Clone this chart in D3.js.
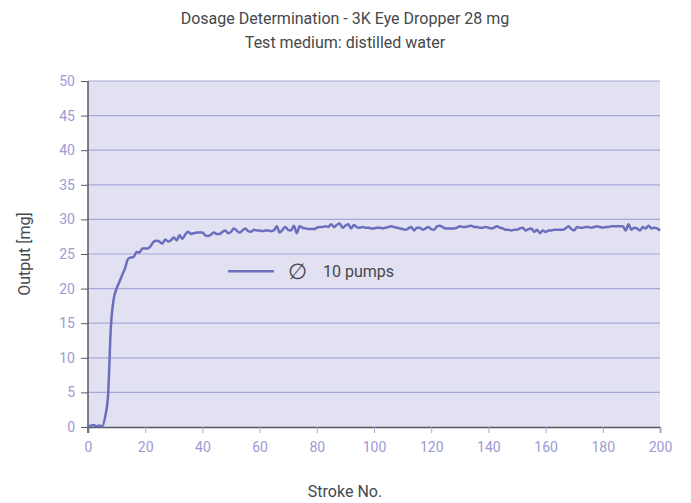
<!DOCTYPE html>
<html>
<head>
<meta charset="utf-8">
<script src="https://cdn.jsdelivr.net/npm/d3@7"></script>
<style>
  body { margin: 0; background: #fff; }
  text { font-family: "Roboto", "Noto Sans", sans-serif; }
</style>
</head>
<body>
<script>
// chart texts
var titleLines = ["Dosage Determination - 3K Eye Dropper 28 mg", "Test medium: distilled water"];
var seriesSymbol = "\u2205";
var seriesName = "10 pumps";
var xTicks = [0, 20, 40, 60, 80, 100, 120, 140, 160, 180, 200];
var yTicks = [0, 5, 10, 15, 20, 25, 30, 35, 40, 45, 50];

// output per stroke, strokes 0..200
var output = [
  0.1, 0.2, 0.3, 0.1, 0.2, 0.1, 1.5, 4.5, 14.5, 18.5, 20.0,
  21.0, 22.0, 23.0, 24.3, 24.5, 24.6, 25.3, 25.2, 25.8, 25.8,
  25.8, 26.2, 26.8, 26.9, 26.8, 26.5, 27.1, 26.8, 27.0, 27.4,
  27.0, 27.7, 27.2, 27.8, 28.2, 27.9, 28.0, 28.1, 28.1, 28.1,
  27.7, 27.6, 27.8, 28.1, 27.9, 27.9, 28.2, 28.4, 28.0, 28.2,
  28.7, 28.4, 28.1, 28.4, 28.7, 28.3, 28.2, 28.5, 28.4, 28.4,
  28.3, 28.4, 28.4, 28.3, 28.4, 29.0, 28.1, 28.5, 28.9, 28.5,
  28.4, 29.1, 28.0, 29.0, 28.8, 28.7, 28.6, 28.6, 28.6, 28.8,
  28.9, 28.9, 29.0, 28.9, 29.3, 28.9, 29.2, 29.4, 28.8, 29.1,
  29.3, 28.7, 29.2, 28.9, 28.8, 28.9, 28.8, 28.8, 28.7, 28.7,
  28.8, 28.8, 28.7, 28.8, 28.9, 29.0, 28.9, 28.8, 28.7, 28.6,
  28.5, 28.7, 28.9, 28.4, 28.8, 28.8, 28.5, 28.7, 28.9, 28.6,
  28.5, 29.0, 29.1, 28.9, 28.7, 28.7, 28.7, 28.7, 28.8, 29.0,
  28.9, 28.9, 29.0, 29.1, 28.9, 28.9, 28.8, 28.8, 28.9, 28.8,
  28.7, 28.8, 29.0, 28.8, 28.7, 28.5, 28.5, 28.4, 28.5, 28.5,
  28.7, 28.8, 28.4, 28.6, 28.7, 28.2, 28.5, 28.0, 28.4, 28.2,
  28.4, 28.4, 28.5, 28.5, 28.5, 28.5, 28.7, 29.0, 28.6, 28.4,
  28.9, 28.8, 28.8, 28.9, 28.9, 28.8, 28.9, 29.0, 28.9, 28.8,
  28.9, 28.9, 29.0, 29.0, 29.0, 29.0, 29.0, 28.4, 29.3, 28.5,
  28.8, 28.7, 28.4, 28.9, 28.7, 29.1, 28.7, 28.8, 28.7, 28.4
];

var margin = {top: 81, right: 31, bottom: 76, left: 88},
    width = 691 - margin.left - margin.right,
    height = 503 - margin.top - margin.bottom;

var svg = d3.select("body").append("svg")
    .attr("width", 691)
    .attr("height", 503);

var g = svg.append("g")
    .attr("transform", "translate(" + margin.left + "," + margin.top + ")");

var x = d3.scaleLinear().domain([0, 200]).range([0, width]);
var y = d3.scaleLinear().domain([0, 50]).range([height, 0]);

// plot background
g.append("rect")
    .attr("width", width)
    .attr("height", height)
    .attr("fill", "#e2e1f2");

// gridlines
g.selectAll(".grid")
    .data(yTicks.slice(1))
  .enter().append("line")
    .attr("x1", 0)
    .attr("x2", width)
    .attr("y1", function(d) { return y(d); })
    .attr("y2", function(d) { return y(d); })
    .attr("stroke", "#a8a7da")
    .attr("stroke-width", 1.2);

// x axis
var xAxis = g.append("g")
    .attr("transform", "translate(0," + height + ")")
    .call(d3.axisBottom(x).tickValues(xTicks).tickSize(6).tickPadding(9));
xAxis.select(".domain").attr("stroke", "#55595f").attr("stroke-width", 1.5);
xAxis.selectAll(".tick line").attr("stroke", "#a8a7da");
xAxis.selectAll("text").attr("fill", "#9c9bd3").style("font-size", "14px");

// y axis
var yAxis = g.append("g")
    .call(d3.axisLeft(y).tickValues(yTicks).tickSize(7).tickPadding(6).tickSizeOuter(0));
yAxis.select(".domain").attr("stroke", "#55595f").attr("stroke-width", 1.5)
    .attr("d", "M0,0V" + (height + 6));
yAxis.selectAll(".tick line").attr("stroke", "#55595f");
yAxis.selectAll("text").attr("fill", "#9c9bd3").style("font-size", "14px");

// data line
var line = d3.line()
    .x(function(d, i) { return x(i); })
    .y(function(d) { return y(d); })
    .curve(d3.curveMonotoneX);

g.append("path")
    .datum(output)
    .attr("fill", "none")
    .attr("stroke", "#6a6ebd")
    .attr("stroke-width", 2.5)
    .attr("stroke-linejoin", "round")
    .attr("d", line);

// legend
g.append("line")
    .attr("x1", x(49)).attr("x2", x(65))
    .attr("y1", y(22.5)).attr("y2", y(22.5))
    .attr("stroke", "#6a6ebd")
    .attr("stroke-width", 2.5);
g.append("text")
    .attr("x", x(73.3))
    .attr("y", y(22.5))
    .attr("dy", "0.35em")
    .attr("text-anchor", "middle")
    .attr("fill", "#45484d")
    .style("font-size", "22px")
    .text(seriesSymbol);
g.append("text")
    .attr("x", x(82.2))
    .attr("y", y(22.5))
    .attr("dy", "0.35em")
    .attr("fill", "#45484d")
    .style("font-size", "16px")
    .text(seriesName);

// titles
svg.selectAll(".title")
    .data(titleLines)
  .enter().append("text")
    .attr("x", 345)
    .attr("y", function(d, i) { return 24 + i * 24; })
    .attr("text-anchor", "middle")
    .attr("fill", "#45484d")
    .style("font-size", "16px")
    .text(function(d) { return d; });

svg.append("text")
    .attr("transform", "translate(30," + (margin.top + height / 2) + ") rotate(-90)")
    .attr("text-anchor", "middle")
    .attr("fill", "#45484d")
    .style("font-size", "16px")
    .text("Output [mg]");

svg.append("text")
    .attr("x", margin.left + width / 2 - 29)
    .attr("y", 497)
    .attr("text-anchor", "middle")
    .attr("fill", "#45484d")
    .style("font-size", "16px")
    .text("Stroke No.");
</script>
</body>
</html>
